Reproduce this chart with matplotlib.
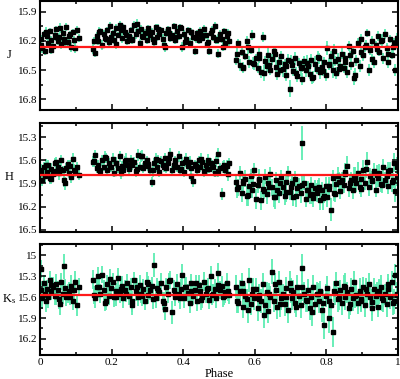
import matplotlib
matplotlib.use("Agg")
import matplotlib.pyplot as plt
from matplotlib.ticker import MultipleLocator

plt.rcParams['font.family'] = ['Liberation Serif', 'DejaVu Serif']
plt.rcParams['mathtext.fontset'] = 'custom'
plt.rcParams['mathtext.rm'] = 'Liberation Serif'
plt.rcParams['mathtext.it'] = 'Liberation Serif'

# phases (shared by the three bands)
phase_a = [0.002, 0.006, 0.010, 0.015, 0.019, 0.023, 0.028, 0.032, 0.037, 0.041,
           0.046, 0.050, 0.054, 0.059, 0.063, 0.068, 0.072, 0.077, 0.081, 0.086,
           0.091, 0.096, 0.102, 0.108]
phase_b = [0.148, 0.153, 0.158, 0.163, 0.168, 0.173, 0.178, 0.183, 0.188, 0.193,
           0.198, 0.203, 0.208, 0.213, 0.218, 0.223, 0.228, 0.233, 0.238, 0.243,
           0.248, 0.253, 0.258, 0.263, 0.268, 0.273, 0.278, 0.283, 0.288, 0.293,
           0.298, 0.303, 0.308, 0.313, 0.318, 0.323, 0.328, 0.333, 0.338, 0.343,
           0.348, 0.353, 0.358, 0.363, 0.368, 0.373, 0.378, 0.383, 0.388, 0.393,
           0.398, 0.403, 0.408, 0.413, 0.418, 0.423, 0.428, 0.433, 0.438, 0.443,
           0.448, 0.453, 0.458, 0.463, 0.468, 0.473, 0.478, 0.483, 0.488, 0.493,
           0.498, 0.503, 0.508, 0.513, 0.518, 0.523, 0.528]
phase_c = [0.548, 0.553, 0.558, 0.563, 0.568, 0.573, 0.578, 0.583, 0.588, 0.593,
           0.598, 0.603, 0.608, 0.613, 0.618, 0.623, 0.628, 0.633, 0.638, 0.643,
           0.648, 0.653, 0.658, 0.663, 0.668, 0.673, 0.678, 0.683, 0.688, 0.693,
           0.698, 0.703, 0.708, 0.713, 0.718, 0.723, 0.728, 0.733, 0.738, 0.743,
           0.748, 0.753, 0.758, 0.763, 0.768, 0.773, 0.778, 0.783, 0.788, 0.793,
           0.798, 0.803, 0.808, 0.813, 0.818, 0.823, 0.828, 0.833, 0.838, 0.843,
           0.848, 0.853, 0.858, 0.863, 0.868, 0.873, 0.878, 0.883, 0.888, 0.893,
           0.898, 0.903, 0.908, 0.913, 0.918, 0.923, 0.928, 0.933, 0.938, 0.943,
           0.948, 0.953, 0.958, 0.963, 0.968, 0.973, 0.978, 0.983, 0.988, 0.993,
           0.998]
phase_d = [0.004, 0.017, 0.030, 0.044, 0.057, 0.070, 0.083, 0.099,
           0.150, 0.166, 0.181, 0.196, 0.211, 0.226, 0.241, 0.256, 0.271, 0.286,
           0.301, 0.316, 0.331, 0.346, 0.361, 0.376, 0.391, 0.406, 0.421, 0.436,
           0.451, 0.466, 0.481, 0.496, 0.511, 0.525,
           0.551, 0.566, 0.581, 0.596, 0.611, 0.626, 0.641, 0.656, 0.671, 0.686,
           0.701, 0.716, 0.731, 0.746, 0.761, 0.776, 0.791, 0.806, 0.821, 0.836,
           0.851, 0.866, 0.881, 0.896, 0.911, 0.926, 0.941, 0.956, 0.971, 0.986,
           0.996]

# J band
j_a = [16.18, 16.27, 16.13, 16.30, 16.15, 16.22, 16.10, 16.19, 16.25, 16.14,
       16.08, 16.20, 16.16, 16.23, 16.12, 16.18, 16.06, 16.21, 16.15, 16.26,
       16.11, 16.19, 16.09, 16.17]
j_b = [16.28, 16.32, 16.15, 16.20, 16.10, 16.24, 16.13, 16.18, 16.09, 16.21,
       16.16, 16.12, 16.19, 16.07, 16.14, 16.04, 16.17, 16.06, 16.11, 16.20,
       16.15, 16.09, 16.18, 16.04, 16.13, 16.10, 16.22, 16.08, 16.16, 16.12,
       16.19, 16.07, 16.14, 16.11, 16.21, 16.06, 16.16, 16.13, 16.09, 16.18,
       16.26, 16.12, 16.08, 16.17, 16.14, 16.05, 16.19, 16.10, 16.15, 16.07,
       16.26, 16.13, 16.18, 16.09, 16.22, 16.11, 16.16, 16.30, 16.12, 16.19,
       16.10, 16.17, 16.08, 16.14, 16.21, 16.30, 16.12, 16.16, 16.05, 16.19,
       16.33, 16.13, 16.18, 16.10, 16.22, 16.15, 16.20]
j_c = [16.40, 16.22, 16.45, 16.31, 16.47, 16.36, 16.20, 16.42, 16.29, 16.14,
       16.44, 16.38, 16.48, 16.33, 16.52, 16.16, 16.41, 16.46, 16.35, 16.50,
       16.39, 16.30, 16.47, 16.54, 16.42, 16.36, 16.49, 16.44, 16.55, 16.40,
       16.69, 16.45, 16.51, 16.38, 16.56, 16.43, 16.48, 16.59, 16.41, 16.50,
       16.46, 16.54, 16.40, 16.57, 16.44, 16.49, 16.38, 16.52, 16.47, 16.42,
       16.55, 16.27, 16.45, 16.36, 16.50, 16.41, 16.53, 16.39, 16.46, 16.33,
       16.48, 16.38, 16.52, 16.25, 16.44, 16.30, 16.58, 16.40, 16.22, 16.46,
       16.18, 16.35, 16.26, 16.12, 16.50, 16.29, 16.20, 16.42, 16.24, 16.15,
       16.31, 16.20, 16.38, 16.13, 16.27, 16.42, 16.18, 16.34, 16.22, 16.50,
       16.17]
j_d = [16.24, 16.11, 16.29, 16.16, 16.07, 16.21, 16.13, 16.27,
       16.20, 16.11, 16.17, 16.05, 16.23, 16.09, 16.14, 16.19, 16.03, 16.15,
       16.10, 16.18, 16.08, 16.24, 16.12, 16.16, 16.06, 16.21, 16.11, 16.17,
       16.14, 16.23, 16.09, 16.18, 16.26, 16.12,
       16.33, 16.48, 16.26, 16.43, 16.38, 16.53, 16.45, 16.33, 16.50, 16.46,
       16.41, 16.53, 16.47, 16.43, 16.58, 16.37, 16.51, 16.44, 16.30, 16.49,
       16.42, 16.35, 16.55, 16.31, 16.24, 16.39, 16.28, 16.19, 16.33, 16.26,
       16.23]
j_err_a = [0.04, 0.05, 0.03, 0.05, 0.04, 0.04, 0.03, 0.04, 0.05, 0.04,
           0.03, 0.04, 0.04, 0.05, 0.03, 0.04, 0.04, 0.05, 0.04, 0.05,
           0.03, 0.04, 0.04, 0.04]
j_err_b = [0.05, 0.05, 0.04, 0.04, 0.03, 0.05, 0.04, 0.04, 0.03, 0.04,
           0.04, 0.03, 0.04, 0.04, 0.03, 0.04, 0.05, 0.03, 0.04, 0.04,
           0.04, 0.03, 0.04, 0.04, 0.05, 0.03, 0.04, 0.04, 0.03, 0.04,
           0.04, 0.03, 0.05, 0.04, 0.04, 0.03, 0.04, 0.04, 0.03, 0.05,
           0.05, 0.04, 0.03, 0.04, 0.04, 0.03, 0.04, 0.05, 0.04, 0.03,
           0.05, 0.04, 0.04, 0.03, 0.05, 0.04, 0.04, 0.05, 0.03, 0.04,
           0.04, 0.03, 0.04, 0.04, 0.05, 0.05, 0.03, 0.04, 0.04, 0.04,
           0.05, 0.04, 0.04, 0.03, 0.04, 0.04, 0.05]
j_err_c = [0.05, 0.04, 0.06, 0.05, 0.05, 0.04, 0.05, 0.06, 0.04, 0.05,
           0.06, 0.05, 0.05, 0.07, 0.06, 0.05, 0.05, 0.06, 0.08, 0.05,
           0.06, 0.05, 0.07, 0.06, 0.05, 0.06, 0.08, 0.05, 0.06, 0.07,
           0.09, 0.06, 0.05, 0.07, 0.06, 0.05, 0.08, 0.06, 0.05, 0.07,
           0.06, 0.05, 0.07, 0.06, 0.08, 0.05, 0.06, 0.07, 0.06, 0.05,
           0.06, 0.07, 0.05, 0.06, 0.08, 0.05, 0.06, 0.07, 0.05, 0.06,
           0.05, 0.07, 0.06, 0.05, 0.06, 0.05, 0.07, 0.06, 0.05, 0.06,
           0.05, 0.06, 0.05, 0.04, 0.06, 0.05, 0.05, 0.06, 0.04, 0.05,
           0.05, 0.04, 0.06, 0.05, 0.05, 0.06, 0.04, 0.05, 0.05, 0.06,
           0.05]
j_err_d = [0.04, 0.05, 0.04, 0.04, 0.05, 0.04, 0.03, 0.05,
           0.04, 0.05, 0.03, 0.04, 0.05, 0.04, 0.03, 0.04, 0.05, 0.04,
           0.04, 0.03, 0.05, 0.04, 0.04, 0.05, 0.03, 0.04, 0.04, 0.05,
           0.04, 0.03, 0.04, 0.05, 0.04, 0.04,
           0.06, 0.05, 0.07, 0.06, 0.05, 0.08, 0.06, 0.07, 0.05, 0.06,
           0.07, 0.06, 0.05, 0.08, 0.06, 0.07, 0.05, 0.06, 0.07, 0.05,
           0.06, 0.05, 0.07, 0.06, 0.05, 0.06, 0.05, 0.06, 0.05, 0.06,
           0.05]

# H band
h_a = [15.72, 15.85, 15.68, 15.80, 15.75, 15.66, 15.83, 15.71, 15.78, 15.63,
       15.74, 15.69, 15.77, 15.60, 15.73, 15.86, 15.70, 15.65, 15.76, 15.82,
       15.58, 15.72, 15.68, 15.79]
h_b = [15.62, 15.53, 15.70, 15.66, 15.74, 15.60, 15.68, 15.57, 15.72, 15.64,
       15.69, 15.58, 15.76, 15.63, 15.70, 15.55, 15.67, 15.73, 15.61, 15.66,
       15.71, 15.59, 15.65, 15.62, 15.74, 15.53, 15.68, 15.55, 15.70, 15.64,
       15.60, 15.67, 15.72, 15.88, 15.63, 15.58, 15.69, 15.75, 15.61, 15.66,
       15.57, 15.70, 15.64, 15.52, 15.73, 15.66, 15.60, 15.68, 15.55, 15.71,
       15.63, 15.75, 15.58, 15.67, 15.62, 15.70, 15.87, 15.65, 15.73, 15.60,
       15.68, 15.62, 15.74, 15.66, 15.59, 15.71, 15.64, 15.69, 15.76, 15.61,
       15.52, 15.70, 16.04, 15.66, 15.73, 15.67, 15.63]
h_c = [15.88, 15.95, 15.76, 16.02, 15.90, 15.84, 16.06, 15.93, 15.80, 15.98,
       15.73, 16.10, 15.92, 15.86, 16.12, 15.97, 15.81, 16.04, 15.90, 15.78,
       15.95, 16.08, 15.85, 15.99, 16.03, 15.82, 15.94, 16.06, 15.88, 15.76,
       16.01, 15.90, 16.07, 15.84, 15.96, 15.93, 16.03, 15.37, 15.89, 16.10,
       15.98, 16.05, 15.92, 16.09, 15.96, 16.02, 15.94, 16.11, 15.99, 16.06,
       15.93, 16.08, 15.97, 16.24, 15.83, 16.04, 15.91, 15.80, 16.00, 15.86,
       15.92, 15.78, 15.67, 15.96, 15.85, 15.99, 15.82, 15.90, 15.76, 15.94,
       15.84, 15.72, 15.89, 15.62, 15.95, 15.80, 15.86, 15.74, 15.98, 15.83,
       15.77, 15.91, 15.69, 15.85, 15.80, 15.93, 15.72, 15.88, 15.63, 16.00,
       15.82]
h_d = [15.77, 15.66, 15.84, 15.62, 15.71, 15.90, 15.67, 15.74,
       15.61, 15.72, 15.56, 15.68, 15.63, 15.77, 15.59, 15.66, 15.71, 15.54,
       15.65, 15.73, 15.60, 15.69, 15.57, 15.64, 15.72, 15.62, 15.80, 15.67,
       15.58, 15.71, 15.65, 15.74, 15.69, 15.78,
       15.97, 15.87, 16.05, 15.91, 15.84, 16.00, 15.95, 16.08, 15.89, 16.01,
       15.94, 16.06, 15.92, 15.99, 16.04, 15.96, 16.09, 15.93, 16.02, 15.88,
       15.75, 15.90, 15.83, 15.97, 15.71, 15.87, 15.79, 15.92, 15.74, 15.86,
       15.68]
h_err_a = [0.07, 0.08, 0.06, 0.08, 0.07, 0.06, 0.08, 0.07, 0.07, 0.06,
           0.07, 0.06, 0.08, 0.07, 0.06, 0.09, 0.07, 0.06, 0.07, 0.08,
           0.08, 0.07, 0.06, 0.07]
h_err_b = [0.07, 0.07, 0.06, 0.07, 0.06, 0.07, 0.06, 0.07, 0.06, 0.07,
           0.06, 0.07, 0.06, 0.07, 0.06, 0.07, 0.06, 0.06, 0.07, 0.06,
           0.07, 0.06, 0.07, 0.06, 0.07, 0.08, 0.06, 0.07, 0.06, 0.07,
           0.06, 0.07, 0.06, 0.07, 0.06, 0.07, 0.06, 0.07, 0.07, 0.06,
           0.07, 0.06, 0.07, 0.08, 0.06, 0.07, 0.06, 0.07, 0.07, 0.06,
           0.07, 0.06, 0.07, 0.06, 0.07, 0.06, 0.07, 0.06, 0.07, 0.06,
           0.07, 0.06, 0.07, 0.06, 0.07, 0.06, 0.07, 0.08, 0.06, 0.07,
           0.08, 0.07, 0.08, 0.07, 0.06, 0.07, 0.06]
h_err_c = [0.10, 0.11, 0.09, 0.12, 0.10, 0.11, 0.13, 0.10, 0.09, 0.11,
           0.10, 0.13, 0.11, 0.10, 0.12, 0.11, 0.10, 0.13, 0.11, 0.09,
           0.11, 0.12, 0.10, 0.11, 0.13, 0.10, 0.11, 0.12, 0.10, 0.09,
           0.11, 0.10, 0.12, 0.10, 0.11, 0.10, 0.12, 0.22, 0.10, 0.11,
           0.11, 0.12, 0.10, 0.11, 0.10, 0.12, 0.11, 0.13, 0.11, 0.10,
           0.11, 0.12, 0.10, 0.15, 0.11, 0.10, 0.12, 0.11, 0.10, 0.11,
           0.11, 0.10, 0.12, 0.11, 0.10, 0.11, 0.13, 0.11, 0.14, 0.10,
           0.11, 0.12, 0.10, 0.13, 0.11, 0.10, 0.12, 0.11, 0.10, 0.11,
           0.12, 0.10, 0.11, 0.10, 0.12, 0.11, 0.10, 0.13, 0.12, 0.14,
           0.11]
h_err_d = [0.07, 0.08, 0.07, 0.06, 0.08, 0.09, 0.07, 0.08,
           0.07, 0.06, 0.08, 0.07, 0.06, 0.07, 0.08, 0.06, 0.07, 0.07,
           0.06, 0.08, 0.07, 0.06, 0.07, 0.08, 0.06, 0.07, 0.07, 0.06,
           0.08, 0.07, 0.06, 0.07, 0.08, 0.09,
           0.12, 0.10, 0.14, 0.11, 0.13, 0.10, 0.12, 0.15, 0.11, 0.13,
           0.10, 0.14, 0.12, 0.11, 0.13, 0.10, 0.15, 0.12, 0.11, 0.13,
           0.12, 0.10, 0.14, 0.11, 0.12, 0.10, 0.13, 0.11, 0.12, 0.10,
           0.12]

# Ks band
k_a = [15.20, 15.62, 15.40, 15.55, 15.48, 15.60, 15.35, 15.52, 15.45, 15.58,
       15.42, 15.50, 15.63, 15.38, 15.55, 15.16, 15.60, 15.55, 15.52, 15.44,
       15.65, 15.50, 15.72, 15.46]
k_b = [15.35, 15.62, 15.45, 15.30, 15.55, 15.28, 15.50, 15.66, 15.42, 15.58,
       15.47, 15.38, 15.60, 15.52, 15.33, 15.56, 15.44, 15.62, 15.50, 15.40,
       15.58, 15.46, 15.66, 15.36, 15.52, 15.60, 15.43, 15.55, 15.48, 15.65,
       15.39, 15.57, 15.50, 15.44, 15.14, 15.62, 15.47, 15.53, 15.40, 15.66,
       15.77, 15.45, 15.55, 15.36, 15.82, 15.50, 15.60, 15.42, 15.56, 15.48,
       15.28, 15.62, 15.45, 15.54, 15.68, 15.40, 15.58, 15.50, 15.65, 15.43,
       15.52, 15.60, 15.38, 15.56, 15.47, 15.64, 15.30, 15.55, 15.49, 15.62,
       15.26, 15.50, 15.44, 15.58, 15.53, 15.40, 15.57]
k_c = [15.45, 15.68, 15.52, 15.40, 15.74, 15.58, 15.63, 15.36, 15.70, 15.55,
       15.62, 15.48, 15.76, 15.57, 15.66, 15.42, 15.72, 15.53, 15.80, 15.60,
       15.24, 15.65, 15.50, 15.74, 15.38, 15.61, 15.56, 15.70, 15.47, 15.79,
       15.40, 15.62, 15.53, 15.68, 15.45, 15.59, 15.72, 15.19, 15.55, 15.64,
       15.50, 15.75, 15.60, 15.45, 15.70, 15.56, 15.66, 15.52, 15.78, 16.00,
       15.58, 15.47, 15.65, 15.72, 16.10, 15.54, 15.40, 15.63, 15.50, 15.69,
       15.44, 15.60, 15.53, 15.75, 15.48, 15.62, 15.38, 15.57, 15.68, 15.51,
       15.63, 15.46, 15.71, 15.55, 15.42, 15.60, 15.67, 15.49, 15.58, 15.74,
       15.52, 15.45, 15.64, 15.56, 15.70, 15.48, 15.60, 15.38, 15.66, 15.28,
       15.55]
k_d = [15.50, 15.66, 15.43, 15.58, 15.70, 15.47, 15.60, 15.38,
       15.57, 15.46, 15.68, 15.34, 15.60, 15.49, 15.55, 15.72, 15.45, 15.58,
       15.42, 15.63, 15.50, 15.68, 15.37, 15.55, 15.61, 15.46, 15.52, 15.40,
       15.64, 15.48, 15.57, 15.43, 15.60, 15.52,
       15.66, 15.52, 15.78, 15.48, 15.63, 15.85, 15.55, 15.42, 15.70, 15.60,
       15.50, 15.74, 15.46, 15.65, 15.82, 15.56, 15.68, 15.90, 15.52, 15.62,
       15.45, 15.70, 15.58, 15.66, 15.49, 15.75, 15.55, 15.62, 15.42, 15.68,
       15.57]
k_err_a = [0.13, 0.15, 0.12, 0.14, 0.13, 0.15, 0.13, 0.12, 0.14, 0.13,
           0.15, 0.13, 0.14, 0.12, 0.15, 0.18, 0.13, 0.14, 0.13, 0.15,
           0.14, 0.13, 0.15, 0.13]
k_err_b = [0.14, 0.13, 0.15, 0.13, 0.14, 0.12, 0.15, 0.13, 0.14, 0.13,
           0.15, 0.13, 0.14, 0.12, 0.15, 0.13, 0.14, 0.13, 0.15, 0.13,
           0.14, 0.13, 0.15, 0.12, 0.14, 0.13, 0.15, 0.13, 0.14, 0.13,
           0.15, 0.13, 0.14, 0.13, 0.17, 0.13, 0.14, 0.13, 0.15, 0.13,
           0.16, 0.13, 0.14, 0.13, 0.16, 0.14, 0.13, 0.15, 0.13, 0.14,
           0.15, 0.13, 0.14, 0.13, 0.15, 0.13, 0.14, 0.13, 0.15, 0.14,
           0.13, 0.15, 0.14, 0.13, 0.15, 0.13, 0.14, 0.13, 0.15, 0.14,
           0.15, 0.13, 0.14, 0.13, 0.15, 0.14, 0.13]
k_err_c = [0.16, 0.15, 0.17, 0.15, 0.16, 0.18, 0.15, 0.17, 0.16, 0.15,
           0.17, 0.16, 0.18, 0.15, 0.17, 0.16, 0.18, 0.15, 0.17, 0.16,
           0.18, 0.16, 0.15, 0.17, 0.16, 0.18, 0.15, 0.17, 0.16, 0.18,
           0.17, 0.16, 0.18, 0.15, 0.17, 0.16, 0.18, 0.20, 0.16, 0.17,
           0.16, 0.18, 0.15, 0.17, 0.16, 0.18, 0.17, 0.15, 0.18, 0.20,
           0.16, 0.17, 0.18, 0.15, 0.21, 0.17, 0.16, 0.18, 0.15, 0.17,
           0.16, 0.18, 0.15, 0.17, 0.16, 0.18, 0.15, 0.17, 0.16, 0.18,
           0.17, 0.15, 0.18, 0.16, 0.17, 0.15, 0.18, 0.16, 0.17, 0.15,
           0.18, 0.16, 0.17, 0.15, 0.18, 0.16, 0.17, 0.15, 0.18, 0.16,
           0.17]
k_err_d = [0.13, 0.15, 0.12, 0.14, 0.16, 0.13, 0.12, 0.15,
           0.13, 0.15, 0.12, 0.14, 0.13, 0.16, 0.12, 0.14, 0.13, 0.15,
           0.12, 0.14, 0.13, 0.15, 0.12, 0.14, 0.16, 0.13, 0.15, 0.12,
           0.14, 0.13, 0.15, 0.12, 0.14, 0.13,
           0.17, 0.15, 0.19, 0.16, 0.18, 0.20, 0.15, 0.17, 0.19, 0.16,
           0.18, 0.15, 0.20, 0.17, 0.19, 0.16, 0.18, 0.21, 0.15, 0.17,
           0.19, 0.16, 0.18, 0.15, 0.17, 0.19, 0.16, 0.18, 0.15, 0.17,
           0.16]

# mean magnitude of each band (red lines)
mean_mag = [16.26, 15.79, 15.57]
band_labels = ['J', 'H', r'K$_\mathrm{s}$']
y_limits = [(16.91, 15.79), (16.53, 15.115), (16.43, 14.84)]
y_ticks = [[15.9, 16.2, 16.5, 16.8],
           [15.3, 15.6, 15.9, 16.2, 16.5],
           [15.0, 15.3, 15.6, 15.9, 16.2]]
y_ticklabels = [['15.9', '16.2', '16.5', '16.8'],
                ['15.3', '15.6', '15.9', '16.2', '16.5'],
                ['15', '15.3', '15.6', '15.9', '16.2']]

phase = phase_a + phase_b + phase_c + phase_d
mags = [j_a + j_b + j_c + j_d, h_a + h_b + h_c + h_d, k_a + k_b + k_c + k_d]
errs = [j_err_a + j_err_b + j_err_c + j_err_d,
        h_err_a + h_err_b + h_err_c + h_err_d,
        k_err_a + k_err_b + k_err_c + k_err_d]

fig = plt.figure(figsize=(4.0, 3.79), dpi=100)
boxes = [[0.1, 0.7098, 0.895, 0.2876],
         [0.1, 0.3879, 0.895, 0.2876],
         [0.1, 0.0633, 0.895, 0.2929]]

for i in range(3):
    ax = fig.add_axes(boxes[i])
    ax.errorbar(phase, mags[i], yerr=errs[i], fmt='none', ecolor='#5DEDB2',
                elinewidth=1.3, capsize=0, zorder=1)
    ax.plot(phase, mags[i], 's', color='black', markersize=2.3, zorder=2)
    ax.axhline(mean_mag[i], color='#ff1a1a', linewidth=1.6, zorder=3)
    ax.set_xlim(0, 1)
    ax.set_ylim(*y_limits[i])
    ax.set_yticks(y_ticks[i])
    ax.set_yticklabels(y_ticklabels[i])
    ax.yaxis.set_minor_locator(MultipleLocator(0.15))
    ax.xaxis.set_major_locator(MultipleLocator(0.2))
    ax.xaxis.set_minor_locator(MultipleLocator(0.1))
    ax.tick_params(which='both', direction='in', top=True, right=True,
                   labelsize=8, width=1.1, pad=2)
    ax.tick_params(which='major', length=4.5)
    ax.tick_params(which='minor', length=2.5)
    for s in ax.spines.values():
        s.set_linewidth(1.5)
    ax.set_ylabel(band_labels[i], rotation=0, fontsize=9, labelpad=6,
                  va='center')
    if i < 2:
        ax.set_xticklabels([])
    else:
        ax.set_xticks([0, 0.2, 0.4, 0.6, 0.8, 1.0])
        ax.set_xticklabels(['0', '0.2', '0.4', '0.6', '0.8', '1'])
        ax.set_xlabel('Phase', fontsize=9, labelpad=1)

fig.savefig('out.png', dpi=100)
